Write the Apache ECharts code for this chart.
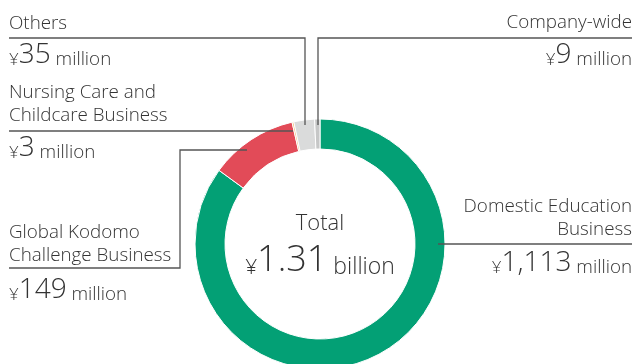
<!DOCTYPE html>
<html>
<head>
<meta charset="utf-8">
<script src="https://cdn.jsdelivr.net/npm/echarts@6/dist/echarts.min.js"></script>
<style>
html,body{margin:0;padding:0;background:#fff;}
#c{width:635px;height:364px;}
</style>
</head>
<body>
<div id="c"></div>
<script>
// Data
var categories = ['Domestic Education Business', 'Global Kodomo Challenge Business', 'Nursing Care and Childcare Business', 'Others', 'Company-wide'];
var values = [1113, 149, 3, 35, 9];
var valueLabels = ['1,113', '149', '3', '35', '9'];
var totalLabel = '1.31';
var colors = ['#03a075', '#e24b58', '#f3bd78', '#dadbdb', '#c6c7c7'];

var FONT = '"Open Sans", "Noto Sans", sans-serif';
var TXT = '#333333';
var LINE = '#555555';

var chart = echarts.init(document.getElementById('c'), null, {renderer: 'canvas'});

function plain(text, x, y, size, align) {
  return {
    type: 'text', x: x, y: y, silent: true,
    style: {text: text, fill: TXT, fontSize: size, fontFamily: FONT, fontWeight: 300,
            align: align || 'left', verticalAlign: 'bottom', lineHeight: 23}
  };
}
function money(num, unit, x, y, bigSize, align) {
  return {
    type: 'text', x: x, y: y, silent: true,
    style: {
      text: '{y|¥}{n|' + num + '}{u| ' + unit + '}',
      align: align || 'left', verticalAlign: 'bottom',
      rich: {
        y: {fontSize: 17, fontFamily: FONT, fontWeight: 300, fill: TXT, verticalAlign: 'bottom', lineHeight: bigSize},
        n: {fontSize: bigSize, fontFamily: FONT, fontWeight: 300, fill: TXT, verticalAlign: 'bottom', lineHeight: bigSize},
        u: {fontSize: 18.8, fontFamily: FONT, fontWeight: 300, fill: TXT, verticalAlign: 'bottom', lineHeight: bigSize}
      }
    }
  };
}
function line(points) {
  return {type: 'polyline', silent: true, shape: {points: points},
          style: {stroke: LINE, lineWidth: 1.3, fill: null}, z: 10};
}

var option = {
  animation: false,
  backgroundColor: '#ffffff',
  series: [{
    type: 'pie',
    center: [320, 244],
    radius: [95, 125],
    startAngle: 90,
    clockwise: true,
    label: {show: false},
    labelLine: {show: false},
    emphasis: {disabled: true},
    itemStyle: {borderColor: '#ffffff', borderWidth: 1},
    data: categories.map(function (c, i) {
      return {name: c, value: values[i], itemStyle: {color: colors[i]}};
    }),
    z: 2
  }],
  graphic: [
    // leader lines
    line([[9, 38], [305, 38], [305, 125]]),
    line([[632, 38], [318, 38], [318, 125]]),
    line([[9, 131], [293, 131]]),
    line([[9, 268], [180, 268], [180, 150], [247, 150]]),
    line([[438, 244], [632, 244]]),
    // Others
    plain('Others', 9, 35, 18.8),
    money(valueLabels[3], 'million', 9, 69, 28),
    // Nursing
    plain('Nursing Care and\nChildcare Business', 9, 127, 18.8),
    money(valueLabels[2], 'million', 9, 162, 28),
    // Global
    plain('Global Kodomo\nChallenge Business', 9, 267, 18.8),
    money(valueLabels[1], 'million', 9, 304, 28),
    // Company-wide
    plain('Company-wide', 632, 34, 18.8, 'right'),
    money(valueLabels[4], 'million', 632, 69, 28, 'right'),
    // Domestic
    plain('Domestic Education\nBusiness', 632, 241, 18.8, 'right'),
    money(valueLabels[0], 'million', 632, 277, 28, 'right'),
    // Total
    plain('Total', 320, 235, 22, 'center'),
    {
      type: 'text', x: 320, y: 279, silent: true,
      style: {
        text: '{y|¥}{n|' + totalLabel + '}{u| billion}',
        align: 'center', verticalAlign: 'bottom',
        rich: {
          y: {fontSize: 21, fontFamily: FONT, fontWeight: 300, fill: TXT, verticalAlign: 'bottom', lineHeight: 36},
          n: {fontSize: 36, fontFamily: FONT, fontWeight: 300, fill: TXT, verticalAlign: 'bottom', lineHeight: 36},
          u: {fontSize: 23, fontFamily: FONT, fontWeight: 300, fill: TXT, verticalAlign: 'bottom', lineHeight: 36}
        }
      }
    }
  ]
};
chart.setOption(option);
</script>
</body>
</html>
